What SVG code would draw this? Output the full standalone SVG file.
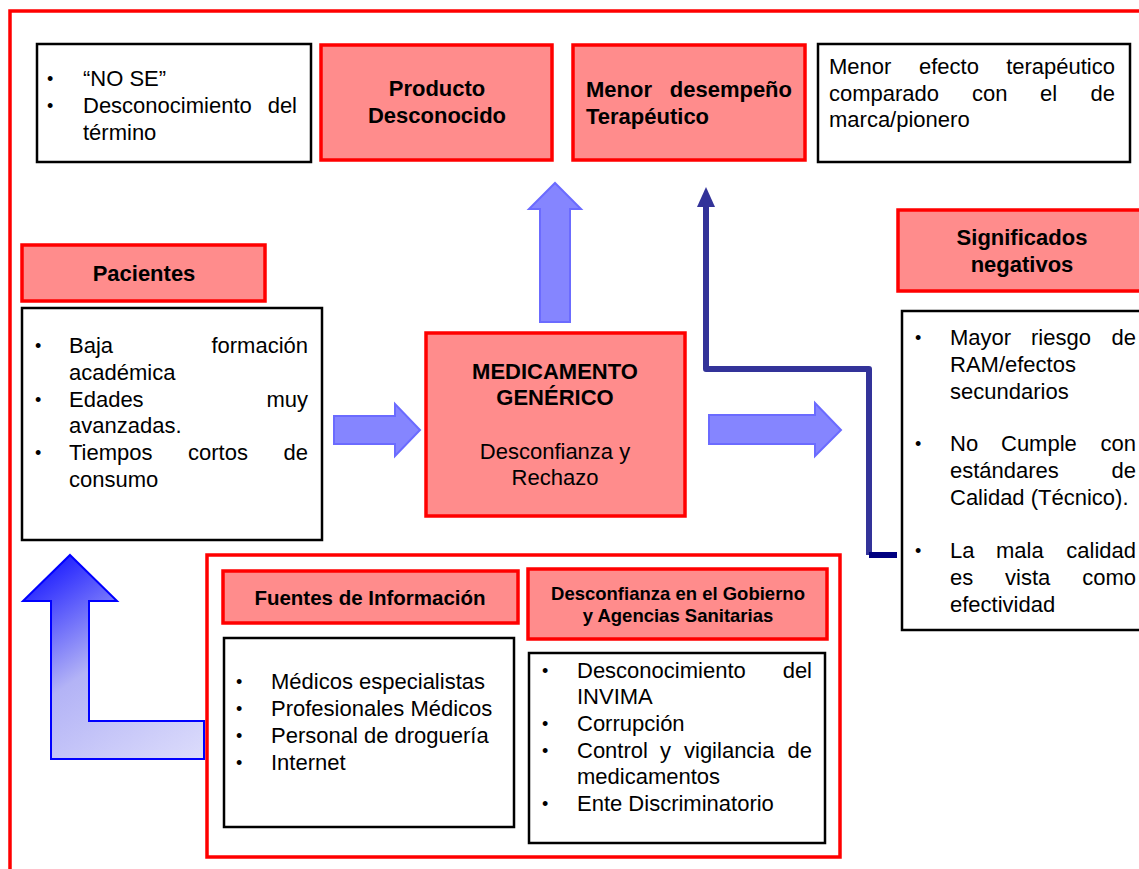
<svg xmlns="http://www.w3.org/2000/svg" width="1139" height="869" viewBox="0 0 1139 869">
  <style>
    text { font-family: "Liberation Sans", Arial, sans-serif; font-size: 22px; fill: #000; }
    .b { font-weight: bold; }
    .c { text-anchor: middle; }
    .e { text-anchor: end; }
    .bl { font-size: 18px; }
    .hdr { fill: #FF8C8C; stroke: #FF0000; stroke-width: 3.5; }
    .lst { fill: #FFFFFF; stroke: #000000; stroke-width: 2.5; }
    .frame { fill: none; stroke: #FF0000; stroke-width: 3.5; }
    .blk { fill: #8585FF; stroke: #6B6BFF; stroke-width: 2; stroke-linejoin: miter; }
    .nav { fill: none; stroke: #333399; stroke-width: 6; stroke-linejoin: round; }
  </style>
  <defs>
    <linearGradient id="lgrad" gradientUnits="userSpaceOnUse" x1="60" y1="555" x2="200" y2="760">
      <stop offset="0" stop-color="#1E1EFF"/>
      <stop offset="0.45" stop-color="#B3B3F6"/>
      <stop offset="1" stop-color="#DCDCFB"/>
    </linearGradient>
    <marker id="navHead" viewBox="0 0 20 18" refX="2" refY="9" markerUnits="userSpaceOnUse" markerWidth="20" markerHeight="18" orient="auto">
      <path d="M0,0 L20,9 L0,18 Z" fill="#333399"/>
    </marker>
  </defs>

  <rect width="1139" height="869" fill="#FFFFFF"/>

  <!-- outer frame, open to the right and bottom -->
  <path class="frame" d="M10,869 V11 H1145"/>

  <!-- connectors -->
  <g id="connectors">
    <!-- Pacientes -> Medicamento -->
    <path class="blk" d="M334,416 H395 V404 L420,430 L395,456 V444 H334 Z"/>
    <!-- Medicamento -> Significados -->
    <path class="blk" d="M709,415 H815 V403 L841,430 L815,456 V444 H709 Z"/>
    <!-- Medicamento -> Producto desconocido -->
    <path class="blk" d="M540,322 V209 H529 L555,183 L581,209 H570 V322 Z"/>
    <!-- Significados -> Menor desempeño -->
    <path class="nav" d="M869,555 V369 H706 V205" marker-end="url(#navHead)"/>
    <line x1="869" y1="555" x2="897" y2="555" stroke="#000080" stroke-width="6"/>
    <!-- Fuentes / Desconfianza -> Pacientes -->
    <path d="M70,555 L117,601 L89,601 L89,721 L204,721 L204,759 L51,759 L51,601 L23,601 Z" fill="url(#lgrad)" stroke="#0000FF" stroke-width="2"/>
  </g>

  <!-- top row -->
  <g id="no-se">
    <rect class="lst" x="37" y="44" width="274" height="118"/>
    <text class="bl" x="47" y="85">•</text>
    <text x="83" y="86">“NO SE”</text>
    <text class="bl" x="47" y="112">•</text>
    <text x="83" y="113">Desconocimiento</text>
    <text class="e" x="297" y="113">del</text>
    <text x="83" y="140">término</text>
  </g>

  <g id="producto-desconocido">
    <rect class="hdr" x="321" y="45" width="231" height="115"/>
    <text class="b c" x="437" y="96">Producto</text>
    <text class="b c" x="437" y="123">Desconocido</text>
  </g>

  <g id="menor-desempeno">
    <rect class="hdr" x="573" y="45" width="232" height="115"/>
    <text class="b" x="586" y="97">Menor</text>
    <text class="b e" x="792" y="97">desempeño</text>
    <text class="b" x="586" y="124">Terapéutico</text>
  </g>

  <g id="menor-efecto">
    <rect class="lst" x="818" y="44" width="312" height="118"/>
    <text x="829" y="74">Menor</text>
    <text x="919" y="74">efecto</text>
    <text class="e" x="1115" y="74">terapéutico</text>
    <text x="829" y="101">comparado</text>
    <text x="972" y="101">con</text>
    <text x="1040" y="101">el</text>
    <text class="e" x="1115" y="101">de</text>
    <text x="829" y="127">marca/pionero</text>
  </g>

  <!-- middle row -->
  <g id="pacientes">
    <rect class="hdr" x="22" y="245" width="243" height="56"/>
    <text class="b c" x="144" y="281">Pacientes</text>
    <rect class="lst" x="22" y="308" width="300" height="232"/>
    <text class="bl" x="35" y="352">•</text>
    <text x="69" y="353">Baja</text>
    <text class="e" x="308" y="353">formación</text>
    <text x="69" y="380">académica</text>
    <text class="bl" x="35" y="406">•</text>
    <text x="69" y="407">Edades</text>
    <text class="e" x="308" y="407">muy</text>
    <text x="69" y="433">avanzadas.</text>
    <text class="bl" x="35" y="459">•</text>
    <text x="69" y="460">Tiempos</text>
    <text x="188" y="460">cortos</text>
    <text class="e" x="308" y="460">de</text>
    <text x="69" y="487">consumo</text>
  </g>

  <g id="medicamento-generico">
    <rect class="hdr" x="426" y="333" width="259" height="183"/>
    <text class="b c" x="555" y="379">MEDICAMENTO</text>
    <text class="b c" x="555" y="405">GENÉRICO</text>
    <text class="c" x="555" y="459">Desconfianza y</text>
    <text class="c" x="555" y="485">Rechazo</text>
  </g>

  <g id="significados-negativos">
    <rect class="hdr" x="898" y="210" width="250" height="81"/>
    <text class="b c" x="1022" y="245">Significados</text>
    <text class="b c" x="1022" y="272">negativos</text>
    <rect class="lst" x="902" y="311" width="245" height="319"/>
    <text class="bl" x="915" y="344">•</text>
    <text x="950" y="345">Mayor</text>
    <text x="1031" y="345">riesgo</text>
    <text class="e" x="1136" y="345">de</text>
    <text x="950" y="372">RAM/efectos</text>
    <text x="950" y="399">secundarios</text>
    <text class="bl" x="915" y="450">•</text>
    <text x="950" y="451">No</text>
    <text x="1001" y="451">Cumple</text>
    <text class="e" x="1136" y="451">con</text>
    <text x="950" y="478">estándares</text>
    <text class="e" x="1136" y="478">de</text>
    <text x="950" y="505">Calidad (Técnico).</text>
    <text class="bl" x="915" y="557">•</text>
    <text x="950" y="558">La</text>
    <text x="996" y="558">mala</text>
    <text class="e" x="1136" y="558">calidad</text>
    <text x="950" y="585">es</text>
    <text x="1005" y="585">vista</text>
    <text class="e" x="1136" y="585">como</text>
    <text x="950" y="612">efectividad</text>
  </g>

  <!-- bottom group -->
  <g id="factores">
    <rect class="frame" x="207" y="555" width="633" height="302"/>
  </g>

  <g id="fuentes-informacion">
    <rect class="hdr" x="223" y="571" width="295" height="52"/>
    <text class="b c" x="370" y="605" style="font-size:20.5px">Fuentes de Información</text>
    <rect class="lst" x="224" y="638" width="290" height="189"/>
    <text class="bl" x="236" y="688">•</text>
    <text x="271" y="689">Médicos especialistas</text>
    <text class="bl" x="236" y="715">•</text>
    <text x="271" y="716">Profesionales Médicos</text>
    <text class="bl" x="236" y="742">•</text>
    <text x="271" y="743">Personal de droguería</text>
    <text class="bl" x="236" y="769">•</text>
    <text x="271" y="770">Internet</text>
  </g>

  <g id="desconfianza-gobierno">
    <rect class="hdr" x="528" y="569" width="299" height="70"/>
    <text class="b c" x="678" y="600" style="font-size:18.5px">Desconfianza en el Gobierno</text>
    <text class="b c" x="678" y="622" style="font-size:18.5px">y Agencias Sanitarias</text>
    <rect class="lst" x="529" y="653" width="296" height="190"/>
    <text class="bl" x="542" y="677">•</text>
    <text x="577" y="678">Desconocimiento</text>
    <text class="e" x="812" y="678">del</text>
    <text x="577" y="704">INVIMA</text>
    <text class="bl" x="542" y="730">•</text>
    <text x="577" y="731">Corrupción</text>
    <text class="bl" x="542" y="757">•</text>
    <text x="577" y="758">Control</text>
    <text x="660" y="758">y</text>
    <text x="684" y="758">vigilancia</text>
    <text class="e" x="812" y="758">de</text>
    <text x="577" y="784">medicamentos</text>
    <text class="bl" x="542" y="810">•</text>
    <text x="577" y="811">Ente Discriminatorio</text>
  </g>
</svg>
